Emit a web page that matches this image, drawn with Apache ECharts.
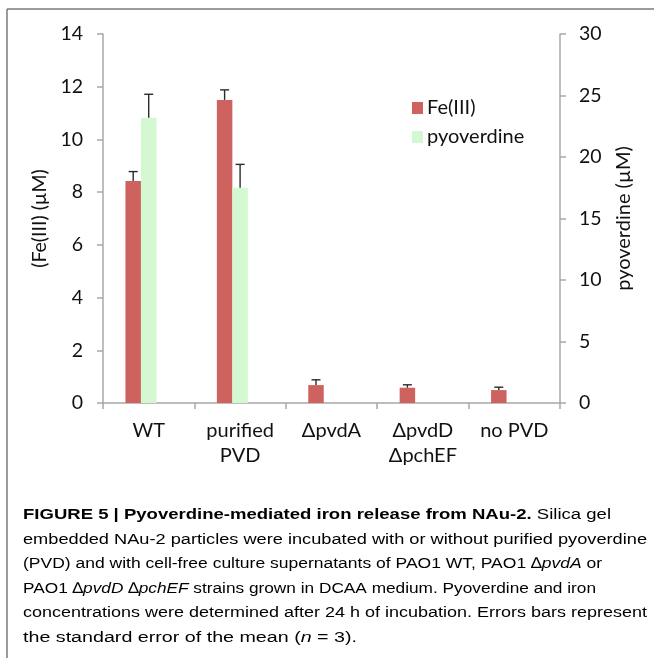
<!DOCTYPE html>
<html>
<head>
<meta charset="utf-8">
<script src="https://cdn.jsdelivr.net/npm/echarts@6/dist/echarts.min.js"></script>
<style>
html,body{margin:0;padding:0;background:#fff;}
#chart{width:654px;height:658px;}
</style>
</head>
<body>
<div id="chart"></div>
<script>
// ---- data ----
const categories = ['WT', 'purified\nPVD', '\u0394pvdA', '\u0394pvdD\n\u0394pchEF', 'no PVD'];
const feValues = [8.42, 11.5, 0.68, 0.58, 0.49];
const feErrTop = [8.78, 11.88, 0.88, 0.69, 0.60];
const pvdValues = [23.2, 17.5, null, null, null];
const pvdErrTop = [25.1, 19.4, null, null, null];
const leftTicks = {min: 0, max: 14, interval: 2};
const rightTicks = {min: 0, max: 30, interval: 5};

const RED = '#CD625E';
const GREEN = '#D4F8D2';
const BAR_W = 15.5;
const FONT = 'Lato';

function errData(vals, tops) {
  const out = [];
  vals.forEach((v, i) => { if (v != null && tops[i] != null) out.push([i, v, tops[i]]); });
  return out;
}
function errRender(offset) {
  return function (params, api) {
    const i = api.value(0);
    const p0 = api.coord([i, api.value(1)]);
    const p1 = api.coord([i, api.value(2)]);
    const x = p0[0] + offset;
    const cap = 4.5;
    const st = {stroke: '#2b2b2b', lineWidth: 1.4};
    return {
      type: 'group',
      children: [
        {type: 'line', shape: {x1: x, y1: p0[1], x2: x, y2: p1[1]}, style: st},
        {type: 'line', shape: {x1: x - cap, y1: p1[1], x2: x + cap, y2: p1[1]}, style: st}
      ]
    };
  };
}

const chart = echarts.init(document.getElementById('chart'), null, {renderer: 'canvas'});

// ---- caption ----
const capFont = 'Liberation Sans';
const capSize = 15.5;
const capColor = '#404040';
const rich = {
  b: {fontFamily: capFont, fontSize: capSize, fontWeight: 'bold', color: '#1e1e1e'},
  n: {fontFamily: capFont, fontSize: capSize, fontWeight: 'normal', color: capColor},
  i: {fontFamily: capFont, fontSize: capSize, fontStyle: 'italic', color: capColor}
};
const captionSegs = [
  [['b', 'FIGURE 5 | Pyoverdine-mediated iron release from NAu-2.'], ['n', ' Silica gel']],
  [['n', 'embedded NAu-2 particles were incubated with or without purified pyoverdine']],
  [['n', '(PVD) and with cell-free culture supernatants of PAO1 WT, PAO1 \u2206'], ['i', 'pvdA'], ['n', ' or']],
  [['n', 'PAO1 \u2206'], ['i', 'pvdD'], ['n', ' \u2206'], ['i', 'pchEF'], ['n', ' strains grown in DCAA medium. Pyoverdine and iron']],
  [['n', 'concentrations were determined after 24 h of incubation. Errors bars represent']],
  [['n', 'the standard error of the mean ('], ['i', 'n'], ['n', ' = 3).']]
];
const captionY = [515, 539.5, 564, 588.5, 613, 637.5];
const captionX = 23;
const captionRight = [611, 647, 602, 596, 647, 357]; // right end of each line in the figure

const ctx = document.createElement('canvas').getContext('2d');
function segFont(k) {
  if (k === 'b') return 'bold ' + capSize + 'px "' + capFont + '"';
  if (k === 'i') return 'italic ' + capSize + 'px "' + capFont + '"';
  return capSize + 'px "' + capFont + '"';
}
function lineWidth(segs) {
  let w = 0;
  segs.forEach(s => { ctx.font = segFont(s[0]); w += ctx.measureText(s[1]).width; });
  return w;
}

const graphics = [
  {type: 'line', shape: {x1: 7, y1: 9, x2: 654, y2: 9}, style: {stroke: '#7a7a7a', lineWidth: 1.5}},
  {type: 'line', shape: {x1: 7, y1: 9, x2: 7, y2: 658}, style: {stroke: '#7a7a7a', lineWidth: 1.5}}
];
captionSegs.forEach((segs, k) => {
  const t = segs.map(s => '{' + s[0] + '|' + s[1] + '}').join('');
  const sx = (captionRight[k] - captionX) / lineWidth(segs);
  graphics.push({
    type: 'text', x: captionX, y: captionY[k], scaleX: sx,
    style: {text: t, rich: rich, verticalAlign: 'middle', align: 'left', font: capSize + 'px "' + capFont + '"'}
  });
});

const option = {
  backgroundColor: '#fff',
  animation: false,
  textStyle: {fontFamily: FONT},
  grid: {left: 103, right: 94, top: 34, bottom: 255, containLabel: false},
  legend: {
    data: ['Fe(III)', 'pyoverdine'],
    orient: 'vertical', left: 412, top: 97, padding: 0,
    itemWidth: 11, itemHeight: 12, itemGap: 7, icon: 'rect',
    textStyle: {fontFamily: FONT, fontSize: 20, color: '#111', lineHeight: 22, padding: [0, 0, 0, -1]}
  },
  xAxis: {
    type: 'category', data: categories,
    axisLine: {lineStyle: {color: '#a8a8a8', width: 1.5}},
    axisTick: {show: true, length: 6, lineStyle: {color: '#a8a8a8', width: 1.5}},
    axisLabel: {fontFamily: FONT, fontSize: 20, color: '#111', margin: 15, lineHeight: 25, interval: 0}
  },
  yAxis: [
    {
      type: 'value', position: 'left', min: leftTicks.min, max: leftTicks.max, interval: leftTicks.interval,
      name: '(Fe(III) (\u00b5M)', nameLocation: 'middle', nameGap: 52, nameRotate: 90,
      nameTextStyle: {fontFamily: FONT, fontSize: 19.5, color: '#111'},
      axisLine: {show: true, lineStyle: {color: '#a8a8a8', width: 1.5}},
      axisTick: {show: true, length: 6, lineStyle: {color: '#a8a8a8', width: 1.5}},
      axisLabel: {fontFamily: FONT, fontSize: 19.5, color: '#111', margin: 20},
      splitLine: {show: false}
    },
    {
      type: 'value', position: 'right', min: rightTicks.min, max: rightTicks.max, interval: rightTicks.interval,
      name: 'pyoverdine (\u00b5M)', nameLocation: 'middle', nameGap: 54, nameRotate: 90,
      nameTextStyle: {fontFamily: FONT, fontSize: 20, color: '#111'},
      axisLine: {show: true, lineStyle: {color: '#a8a8a8', width: 1.5}},
      axisTick: {show: true, length: 6, lineStyle: {color: '#a8a8a8', width: 1.5}},
      axisLabel: {fontFamily: FONT, fontSize: 19.5, color: '#111', margin: 19},
      splitLine: {show: false}
    }
  ],
  series: [
    {name: 'Fe(III)', type: 'bar', yAxisIndex: 0, data: feValues, barWidth: BAR_W, barGap: '0%',
      itemStyle: {color: RED}, z: 2},
    {name: 'pyoverdine', type: 'bar', yAxisIndex: 1, data: pvdValues.map(v => v == null ? '-' : v), barWidth: BAR_W, barGap: '0%',
      itemStyle: {color: GREEN}, z: 2},
    {name: 'spacer', type: 'bar', yAxisIndex: 0, data: categories.map(() => '-'), barWidth: BAR_W, barGap: '0%',
      itemStyle: {color: 'transparent'}, silent: true},
    {name: 'Fe err', type: 'custom', yAxisIndex: 0, data: errData(feValues, feErrTop),
      renderItem: errRender(-BAR_W), z: 3, silent: true},
    {name: 'pvd err', type: 'custom', yAxisIndex: 1, data: errData(pvdValues, pvdErrTop),
      renderItem: errRender(0), z: 3, silent: true}
  ],
  graphic: graphics
};
chart.setOption(option);
</script>
</body>
</html>
